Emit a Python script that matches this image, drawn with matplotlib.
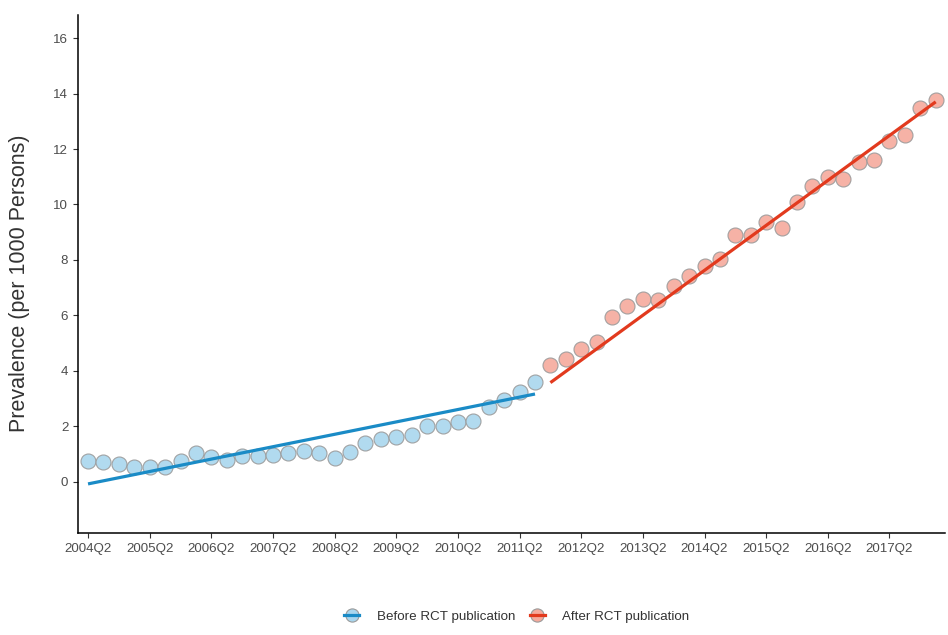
import matplotlib
matplotlib.use("Agg")
import matplotlib.pyplot as plt
from matplotlib.lines import Line2D
import numpy as np
import pandas as pd

plt.rcParams["font.family"] = ["Liberation Sans", "DejaVu Sans"]

# Quarterly prevalence (per 1000 persons)
quarters = [str(p) for p in pd.period_range("2004Q2", "2018Q1", freq="Q")]
before_values = [0.77, 0.71, 0.65, 0.53, 0.53, 0.55, 0.77, 1.03, 0.91, 0.79,
                 0.94, 0.94, 0.97, 1.03, 1.13, 1.03, 0.88, 1.09, 1.39, 1.55,
                 1.61, 1.71, 2.00, 2.02, 2.17, 2.19, 2.71, 2.94, 3.25, 3.60]
after_values = [4.22, 4.42, 4.80, 5.05, 5.93, 6.34, 6.58, 6.56, 7.07, 7.44,
                7.79, 8.05, 8.90, 8.90, 9.38, 9.16, 10.08, 10.68, 11.00, 10.92,
                11.53, 11.59, 12.29, 12.50, 13.47, 13.77]
# Segment trend lines: values at the first and last quarter of each period
before_trend = [-0.07, 3.17]
after_trend = [3.58, 13.70]

tick_labels = [q for q in quarters if q.endswith("Q2")]
y_ticks = [0, 2, 4, 6, 8, 10, 12, 14, 16]

series_labels = ["Before RCT publication", "After RCT publication"]
line_colors = ["#1a8bc6", "#e23a1e"]
fill_colors = ["#a9d6ee", "#f6aa9c"]
edge_color = "#9a9a9a"

nb = len(before_values)
x_before = np.arange(nb)
x_after = np.arange(nb, nb + len(after_values))

fig = plt.figure(figsize=(9.48, 6.35), dpi=100)
ax = fig.add_axes([0.0823, 0.1606, 0.9145, 0.8158])

ax.plot(x_before, before_values, "o", ms=10.8, mfc=fill_colors[0],
        mec=edge_color, mew=0.8, alpha=0.9, zorder=2, ls="none")
ax.plot(x_after, after_values, "o", ms=10.8, mfc=fill_colors[1],
        mec=edge_color, mew=0.8, alpha=0.9, zorder=2, ls="none")
ax.plot([x_before[0], x_before[-1]], before_trend, color=line_colors[0],
        lw=2.3, solid_capstyle="butt", zorder=3)
ax.plot([x_after[0], x_after[-1]], after_trend, color=line_colors[1],
        lw=2.3, solid_capstyle="butt", zorder=3)

ax.set_xlim(-0.65, 55.6)
ax.set_ylim(-1.84, 16.83)
ax.set_xticks([quarters.index(t) for t in tick_labels])
ax.set_xticklabels(tick_labels)
ax.set_yticks(y_ticks)
ax.tick_params(axis="both", labelsize=9.6, colors="#333333",
               labelcolor="#4d4d4d", length=3.5, width=0.8, direction="out")
for side in ["top", "right"]:
    ax.spines[side].set_visible(False)
for side in ["left", "bottom"]:
    ax.spines[side].set_linewidth(1.1)
    ax.spines[side].set_color("black")

ax.set_ylabel("Prevalence (per 1000 Persons)", fontsize=15.5, color="#333333")
ax.yaxis.set_label_coords(-0.055, 0.483)

# Legend keys: point with the trend line drawn through it
handles = [
    (Line2D([0], [0], ls="none", marker="o", ms=9.5, mfc=fill_colors[i],
            mec=edge_color, mew=0.8),
     Line2D([0], [0], color=line_colors[i], lw=2.3))
    for i in range(2)
]
fig.legend(handles, series_labels, loc="center", ncol=2,
           bbox_to_anchor=(0.545, 0.029), frameon=False, fontsize=9.6,
           handlelength=1.15, columnspacing=1.1, handletextpad=1.3,
           labelcolor="#333333")

fig.savefig("out.png", dpi=100)
